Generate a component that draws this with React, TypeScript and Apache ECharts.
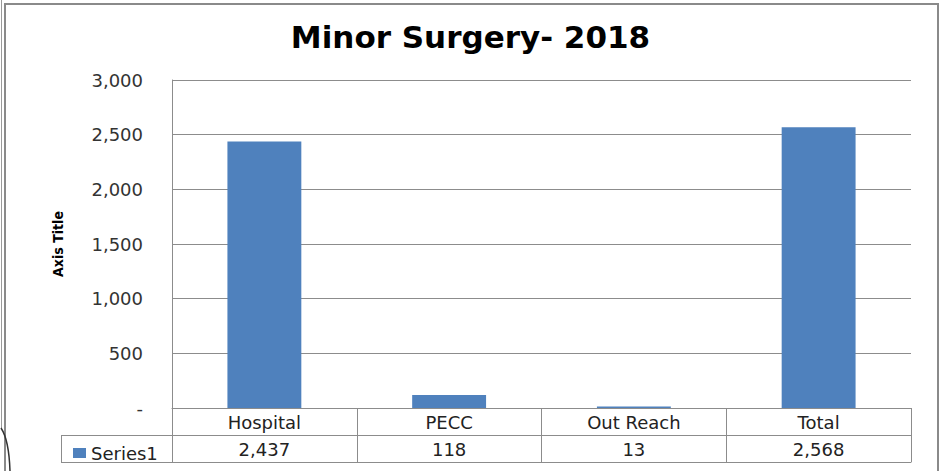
import React, { useEffect, useRef } from "react";
import * as echarts from "echarts";

const chartTitle = "Minor Surgery- 2018";
const categories = ["Hospital", "PECC", "Out Reach", "Total"];
const seriesName = "Series1";
const values = [2437, 118, 13, 2568];
const yTicks = { min: 0, max: 3000, interval: 500 };
const yAxisTitle = "Axis Title";

const fmt = (v: number) => (v === 0 ? "-" : v.toLocaleString("en-US"));

export default function App() {
  const ref = useRef<HTMLDivElement>(null);
  useEffect(() => {
    document.body.style.margin = "0";
    const chart = echarts.init(ref.current!, null, { renderer: "svg" });
    const gray = "#8c8c8c";
    const numFont = "DejaVu Sans";
    const catFont = "DejaVu Sans";
    chart.setOption({
      animation: false,
      backgroundColor: "#ffffff",
      legend: {
        left: 68,
        top: 439,
        icon: "rect",
        itemWidth: 13,
        itemHeight: 10,
        itemGap: 5,
        selectedMode: false,
        textStyle: { fontFamily: catFont, fontSize: 18, color: "#222" },
        data: [seriesName],
      },
      grid: { left: 172, right: 30, top: 80, bottom: 63, containLabel: false },
      xAxis: [
        {
          type: "category",
          data: categories,
          position: "bottom",
          axisLine: { show: true, lineStyle: { color: gray, width: 1 } },
          axisTick: { show: true, length: 54, lineStyle: { color: gray } },
          axisLabel: { margin: 5, fontFamily: catFont, fontSize: 18, color: "#222" },
        },
        {
          type: "category",
          data: values.map(fmt),
          position: "bottom",
          offset: 27,
          axisLine: { show: true, lineStyle: { color: gray, width: 1 } },
          axisTick: { show: false },
          axisLabel: { margin: 5, fontFamily: numFont, fontSize: 18, color: "#222" },
        },
        {
          type: "category",
          data: categories,
          position: "bottom",
          offset: 54,
          axisLine: { show: true, lineStyle: { color: gray, width: 1 } },
          axisTick: { show: false },
          axisLabel: { show: false },
        },
      ],
      yAxis: {
        type: "value",
        min: yTicks.min,
        max: yTicks.max,
        interval: yTicks.interval,
        name: yAxisTitle,
        nameLocation: "middle",
        nameRotate: 90,
        nameGap: 107,
        nameTextStyle: {
          fontFamily: "Liberation Sans Narrow, DejaVu Sans Condensed, Roboto Condensed, Liberation Sans",
          fontWeight: "bold",
          fontSize: 14,
          color: "#000",
        },
        axisLine: { show: true, lineStyle: { color: gray } },
        axisTick: { show: false },
        splitLine: { show: true, lineStyle: { color: gray, width: 1 } },
        axisLabel: {
          margin: 29,
          fontFamily: numFont,
          fontSize: 18,
          color: "#333",
          formatter: (v: number) => fmt(v),
        },
      },
      series: [
        {
          name: seriesName,
          type: "bar",
          xAxisIndex: 0,
          data: values,
          barCategoryGap: "60%",
          itemStyle: { color: "#4F81BD" },
        },
      ],
      graphic: [
        {
          type: "text",
          left: "center",
          top: 21,
          style: {
            text: chartTitle,
            fontFamily: "DejaVu Sans",
            fontWeight: "bold",
            fontSize: 31,
            fill: "#000",
          },
        },
        { type: "rect", shape: { x: 5, y: 4, width: 933, height: 520 }, style: { fill: "none", stroke: "#8a8a8a", lineWidth: 2 } },
        { type: "line", shape: { x1: 1.5, y1: 0, x2: 1.5, y2: 428 }, style: { stroke: "#9a9a9a", lineWidth: 1 } },
        { type: "bezierCurve", shape: { x1: 1, y1: 428, x2: 10, y2: 471, cpx1: 9, cpy1: 440 }, style: { stroke: "#333", lineWidth: 1.5, fill: "none" } },
        { type: "line", shape: { x1: 61, y1: 435.5, x2: 172, y2: 435.5 }, style: { stroke: gray, lineWidth: 1 } },
        { type: "line", shape: { x1: 61, y1: 462.5, x2: 172, y2: 462.5 }, style: { stroke: gray, lineWidth: 1 } },
        { type: "line", shape: { x1: 61.5, y1: 435, x2: 61.5, y2: 463 }, style: { stroke: gray, lineWidth: 1 } },
      ],
    });
    return () => chart.dispose();
  }, []);
  return <div ref={ref} style={{ width: 941, height: 471 }} />;
}
